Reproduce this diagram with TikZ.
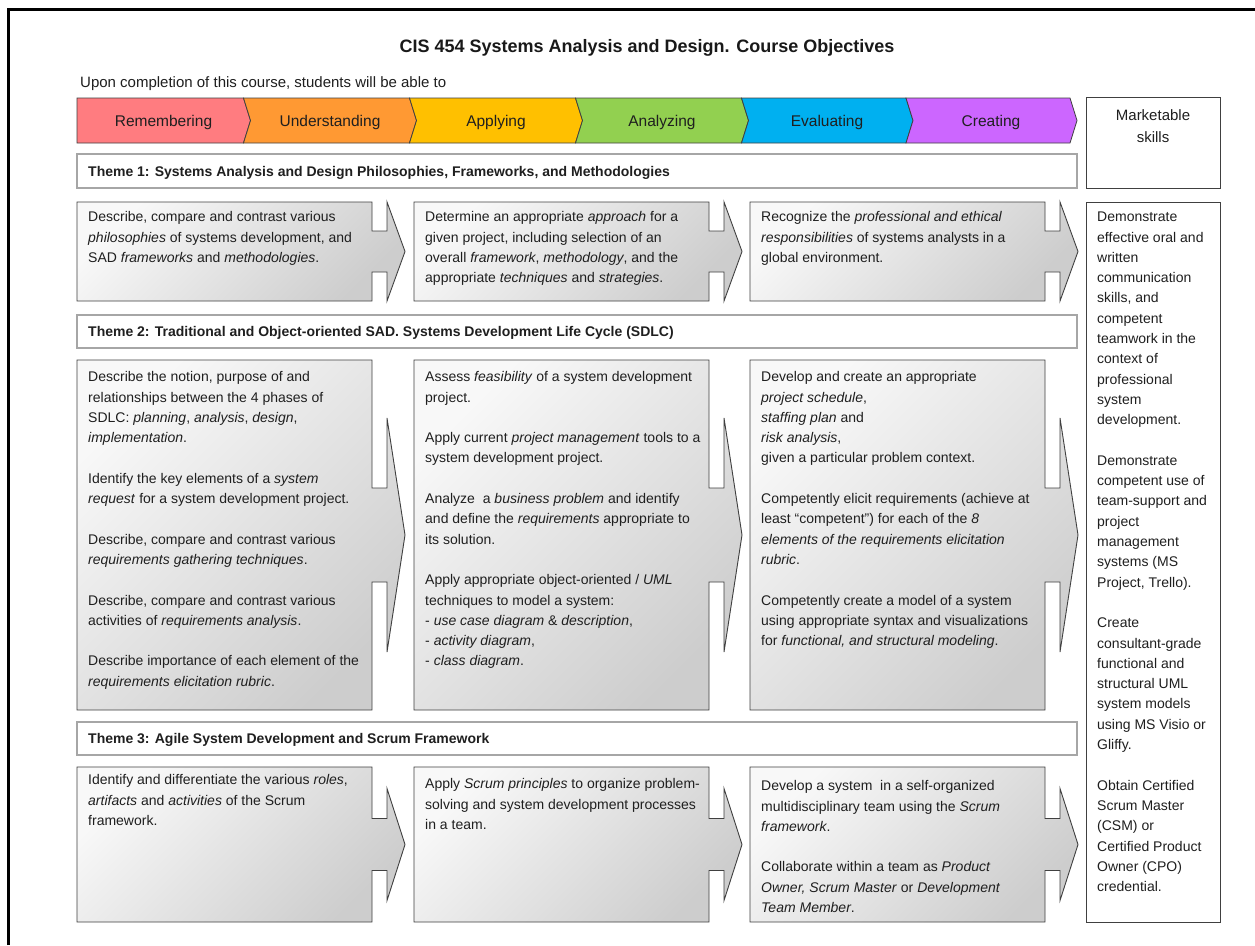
\documentclass[tikz,border=0pt]{standalone}
\usepackage{fontspec}
\setmainfont{Liberation Sans}
\definecolor{cRem}{HTML}{FF7C80}
\definecolor{cUnd}{HTML}{FF9933}
\definecolor{cApp}{HTML}{FFC000}
\definecolor{cAna}{HTML}{92D050}
\definecolor{cEva}{HTML}{00B0F0}
\definecolor{cCre}{HTML}{CC66FF}
\definecolor{txt}{HTML}{1F1F1F}
\definecolor{edge}{HTML}{404040}
\definecolor{thm}{HTML}{A6A6A6}
\definecolor{gF}{HTML}{F8F8F8}
\definecolor{gT}{HTML}{CDCDCD}
\newcommand\callbox[5]{%
 \pgfmathsetmacro\cR{#1+295}\pgfmathsetmacro\cS{#1+310}\pgfmathsetmacro\cT{#1+328}%
 \pgfmathsetmacro\cM{(#2+#3)/2}%
 \pgfmathsetmacro\sA{\cM-#4}\pgfmathsetmacro\sB{\cM+#4}%
 \pgfmathsetmacro\hA{\cM-#5}\pgfmathsetmacro\hB{\cM+#5}%
 \path[callsty] (#1,#2) -- (\cR,#2) -- (\cR,\sA) -- (\cS,\sA) -- (\cS,\hA) -- (\cT,\cM) -- (\cS,\hB) -- (\cS,\sB) -- (\cR,\sB) -- (\cR,#3) -- (#1,#3) -- cycle;}
\begin{document}
\begin{tikzpicture}[x=1pt,y=-1pt,
  callsty/.style={draw=edge, line width=0.9pt, top color=gF, bottom color=gT, shading angle=45},
  body/.style={font=\fontsize{14}{20.3}\selectfont, text=txt, align=left, inner sep=0pt, anchor=north west},
  chev/.style={draw=edge, line width=0.8pt},
  chevlab/.style={font=\fontsize{15.5}{18}\selectfont, text=txt, inner sep=0pt, anchor=base},
  themebar/.style={draw=thm, line width=1.2pt, fill=white},
  themelab/.style={font=\fontsize{14}{17}\selectfont\bfseries, text=txt, inner sep=0pt, anchor=base west},
  skillbox/.style={draw=edge, line width=0.9pt, fill=white}]
\useasboundingbox (0,0) rectangle (1255,945);
\fill[white] (0,0) rectangle (1255,945);
% outer frame
\draw[line width=3pt, black] (8,945) -- (8,9) -- (1255,9);
% title
\node[font=\fontsize{18}{22}\selectfont\bfseries, text=black!90, inner sep=0pt, anchor=base] (title) at (647,52.5) {CIS 454 Systems Analysis and Design. Course Objectives};
\node[font=\fontsize{15}{18}\selectfont, text=txt, inner sep=0pt, anchor=base west] (sub) at (80,87.5) {Upon completion of this course, students will be able to};
% chevrons
\path[chev, fill=cRem] (77,98) -- (243.5,98) -- (250.5,120.5) -- (243.5,143) -- (77,143) -- cycle;
\path[chev, fill=cUnd] (243.5,98) -- (409.5,98) -- (416.5,120.5) -- (409.5,143) -- (243.5,143) -- (250.5,120.5) -- cycle;
\path[chev, fill=cApp] (409.5,98) -- (575.5,98) -- (582.5,120.5) -- (575.5,143) -- (409.5,143) -- (416.5,120.5) -- cycle;
\path[chev, fill=cAna] (575.5,98) -- (741.5,98) -- (748.5,120.5) -- (741.5,143) -- (575.5,143) -- (582.5,120.5) -- cycle;
\path[chev, fill=cEva] (741.5,98) -- (906,98) -- (913,120.5) -- (906,143) -- (741.5,143) -- (748.5,120.5) -- cycle;
\path[chev, fill=cCre] (906,98) -- (1070,98) -- (1077,120.5) -- (1070,143) -- (906,143) -- (913,120.5) -- cycle;
\node[chevlab] (rem) at (163.5,126.5) {Remembering};
\node[chevlab] (und) at (330,126.5) {Understanding};
\node[chevlab] (app) at (496,126.5) {Applying};
\node[chevlab] (ana) at (662,126.5) {Analyzing};
\node[chevlab] (eva) at (827,126.5) {Evaluating};
\node[chevlab] (cre) at (991,126.5) {Creating};
% marketable skills boxes
\path[skillbox] (1086,97) rectangle (1220,188);
\node[font=\fontsize{15}{22}\selectfont, text=txt, align=center, inner sep=0pt, anchor=base] (mk) at (1153,142.5) {Marketable\\skills};
\path[skillbox] (1086,202) rectangle (1220,922);
% theme bars
\path[themebar] (77,154) rectangle (1077,188);
\node[themelab] (t1) at (88,176) {Theme 1: Systems Analysis and Design Philosophies, Frameworks, and Methodologies};
\path[themebar] (77,315) rectangle (1077,348);
\node[themelab] (t2) at (88,336.5) {Theme 2: Traditional and Object-oriented SAD. Systems Development Life Cycle (SDLC)};
\path[themebar] (77,722) rectangle (1077,755);
\node[themelab] (t3) at (88,743.5) {Theme 3: Agile System Development and Scrum Framework};
% row 1
\callbox{77}{202}{301}{20.5}{49.5}
\callbox{414}{202}{301}{20.5}{49.5}
\callbox{750}{202}{301}{20.5}{49.5}
% row 2
\callbox{77}{360}{710}{47}{117}
\callbox{414}{360}{710}{47}{117}
\callbox{750}{360}{710}{47}{117}
% row 3
\callbox{77}{767}{922}{26}{56}
\callbox{414}{767}{922}{26}{56}
\callbox{750}{767}{922}{26}{56}
% texts row 1
\node[body] (a1) at (88,207.3) {\strut Describe, compare and contrast various\\ \textit{philosophies} of systems development, and\\ SAD \textit{frameworks} and \textit{methodologies}.};
\node[body] (a2) at (425,207.3) {\strut Determine an appropriate \textit{approach} for a\\ given project, including selection of an\\ overall \textit{framework}, \textit{methodology}, and the\\ appropriate \textit{techniques} and \textit{strategies}.};
\node[body] (a3) at (761,207.3) {\strut Recognize the \textit{professional and ethical}\\ \textit{responsibilities} of systems analysts in a\\ global environment.};
% texts row 2
\node[body] (b1) at (88,367.3) {\strut Describe the notion, purpose of and\\ relationships between the 4 phases of\\ SDLC: \textit{planning}, \textit{analysis}, \textit{design},\\ \textit{implementation}.\\[20.3pt]
Identify the key elements of a \textit{system}\\ \textit{request} for a system development project.\\[20.3pt]
Describe, compare and contrast various\\ \textit{requirements gathering techniques}.\\[20.3pt]
Describe, compare and contrast various\\ activities of \textit{requirements analysis}.\\[20.3pt]
Describe importance of each element of the\\ \textit{requirements elicitation rubric}.};
\node[body] (b2) at (425,367.3) {\strut Assess \textit{feasibility} of a system development\\ project.\\[20.3pt]
Apply current \textit{project management} tools to a\\ system development project.\\[20.3pt]
Analyze\ \ a \textit{business problem} and identify\\ and define the \textit{requirements} appropriate to\\ its solution.\\[20.3pt]
Apply appropriate object-oriented / \textit{UML}\\ techniques to model a system:\\ - \textit{use case diagram} \& \textit{description},\\ - \textit{activity diagram},\\ - \textit{class diagram}.};
\node[body] (b3) at (761,367.3) {\strut Develop and create an appropriate\\ \textit{project schedule},\\ \textit{staffing plan} and\\ \textit{risk analysis},\\ given a particular problem context.\\[20.3pt]
Competently elicit requirements (achieve at\\ least “competent”) for each of the \textit{8}\\ \textit{elements of the requirements elicitation}\\ \textit{rubric}.\\[20.3pt]
Competently create a model of a system\\ using appropriate syntax and visualizations\\ for \textit{functional, and structural modeling}.};
% texts row 3
\node[body] (c1) at (88,770.3) {\strut Identify and differentiate the various \textit{roles},\\ \textit{artifacts} and \textit{activities} of the Scrum\\ framework.};
\node[body] (c2) at (425,774.3) {\strut Apply \textit{Scrum principles} to organize problem-\\ solving and system development processes\\ in a team.};
\node[body] (c3) at (761,776.3) {\strut Develop a system\ \ in a self-organized\\ multidisciplinary team using the \textit{Scrum}\\ \textit{framework}.\\[20.3pt]
Collaborate within a team as \textit{Product}\\ \textit{Owner, Scrum Master} or \textit{Development}\\ \textit{Team Member}.};
% skills text
\node[body] (sk) at (1097,207.3) {\strut Demonstrate\\ effective oral and\\ written\\ communication\\ skills, and\\ competent\\ teamwork in the\\ context of\\ professional\\ system\\ development.\\[20.3pt]
Demonstrate\\ competent use of\\ team-support and\\ project\\ management\\ systems (MS\\ Project, Trello).\\[20.3pt]
Create\\ consultant-grade\\ functional and\\ structural UML\\ system models\\ using MS Visio or\\ Gliffy.\\[20.3pt]
Obtain Certified\\ Scrum Master\\ (CSM) or\\ Certified Product\\ Owner (CPO)\\ credential.};
\end{tikzpicture}
\end{document}
